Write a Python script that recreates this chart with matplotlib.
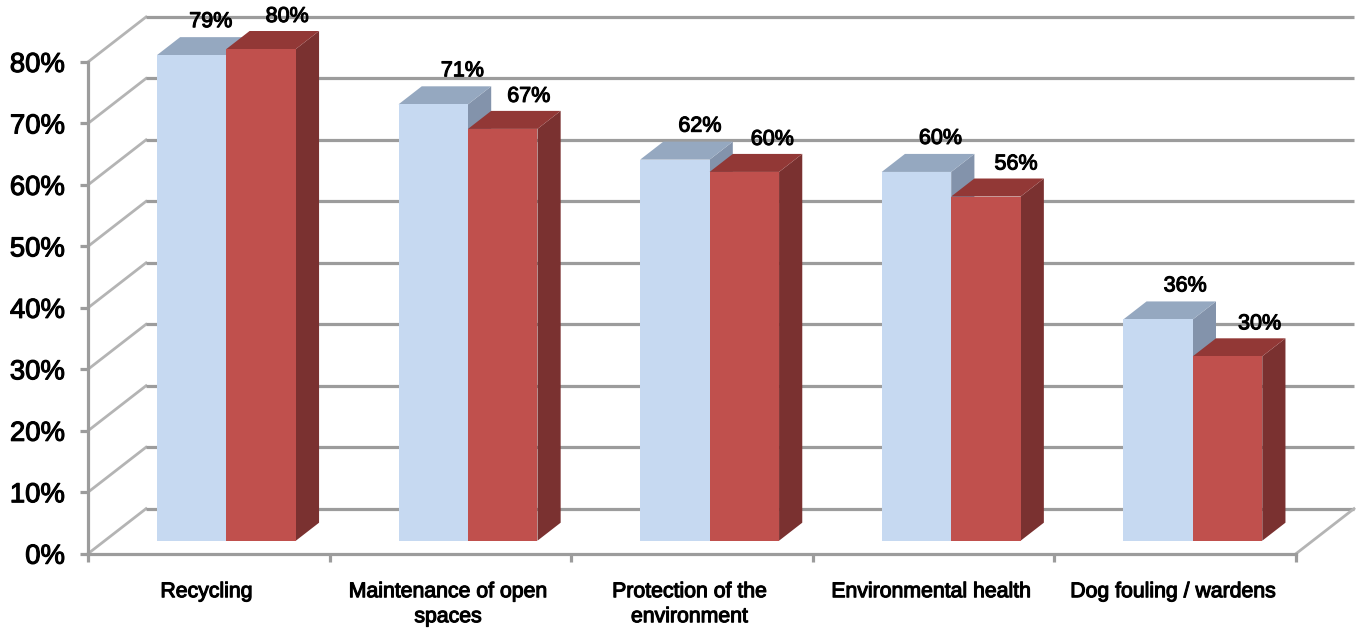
#!/usr/bin/env python
"""Clustered bar chart drawn in the oblique "3D" style of a spreadsheet chart."""
import matplotlib
matplotlib.use("Agg")
import matplotlib.patheffects as pe
import matplotlib.pyplot as plt

plt.rcParams["font.family"] = ["Liberation Sans", "DejaVu Sans"]

categories = [
    "Recycling",
    "Maintenance of open\nspaces",
    "Protection of the\nenvironment",
    "Environmental health",
    "Dog fouling / wardens",
]
series_blue = [79, 71, 62, 60, 36]
series_red = [80, 67, 60, 56, 30]
y_ticks = [0, 10, 20, 30, 40, 50, 60, 70, 80]

# label nudges in pixels relative to the front face centre
blue_label_dx = [19, 29, 25, 24, 27]
red_label_dx = [26, 26, 28, 30, 32]

W, H = 1363, 628
GRID = "#9c9c9c"
DIAG = "#b4b4b4"

# depth of the chart box, in data units
DEPTH_X = 58 / 241.6
DEPTH_Y = 45 / 6.146
BAR_NEAR = 13 / 45
BAR_FAR = 31 / 45
BAR_W = 0.2875
GROUP_START = 0.216
BAR_SCALE = 1.0


def project(x, y, d):
    return x + d * DEPTH_X, y + d * DEPTH_Y


fig = plt.figure(figsize=(W / 100, H / 100), dpi=100, facecolor="white")
ax = fig.add_axes([88 / W, (H - 553.7) / H, 1208 / W, 491.7 / H])
ax.set_xlim(0, 5)
ax.set_ylim(0, 80)
ax.patch.set_visible(False)

# back wall lines and the diagonals that join them to the axis
for t in y_ticks:
    x0, y0 = project(0, t, 1)
    x1, y1 = project(5, t, 1)
    ax.plot([0, x0], [t, y0], color=DIAG, lw=2.0, clip_on=False, zorder=1)
    ax.plot([x0, x1], [y0, y1], color=GRID, lw=2.3, clip_on=False, zorder=1,
            solid_capstyle="butt")
x1, y1 = project(5, 0, 1)
ax.plot([5, x1], [0, y1], color=DIAG, lw=2.0, clip_on=False, zorder=1)


def draw_bar(left, value, front, top, side, zorder):
    h = value * BAR_SCALE
    fx, fy = project(left, 0, BAR_NEAR)
    right = fx + BAR_W
    ax.bar(fx, h, BAR_W, bottom=fy, align="edge", color=front, zorder=zorder + 0.2,
           clip_on=False)
    bdx = (BAR_FAR - BAR_NEAR) * DEPTH_X
    bdy = (BAR_FAR - BAR_NEAR) * DEPTH_Y
    ax.fill([fx, right, right + bdx, fx + bdx],
            [fy + h, fy + h, fy + h + bdy, fy + h + bdy],
            color=top, lw=0, zorder=zorder + 0.1, clip_on=False)
    ax.fill([right, right + bdx, right + bdx, right],
            [fy, fy + bdy, fy + h + bdy, fy + h],
            color=side, lw=0, zorder=zorder, clip_on=False)
    return fx + BAR_W / 2, fy + h


stroke = [pe.withStroke(linewidth=0.8, foreground="black")]

for i in range(len(categories)):
    left = i + GROUP_START
    cx, cy = draw_bar(left, series_blue[i], "#C6D9F1", "#95A8C0", "#8393AB", 2 + i)
    ax.annotate(f"{series_blue[i]}%", (cx, cy),
                xytext=(blue_label_dx[i] * 0.72, 33.5 * 0.72), textcoords="offset points",
                ha="center", va="center", fontsize=15.5, color="black",
                path_effects=stroke, zorder=20, annotation_clip=False)
    cx, cy = draw_bar(left + BAR_W, series_red[i], "#C0504D", "#923836", "#7A3130", 2.5 + i)
    ax.annotate(f"{series_red[i]}%", (cx, cy),
                xytext=(red_label_dx[i] * 0.72, 32.5 * 0.72), textcoords="offset points",
                ha="center", va="center", fontsize=15.5, color="black",
                path_effects=stroke, zorder=20, annotation_clip=False)

for name in ("top", "right"):
    ax.spines[name].set_visible(False)
for name in ("left", "bottom"):
    ax.spines[name].set_color(GRID)
    ax.spines[name].set_linewidth(2.3)
    ax.spines[name].set_zorder(15)

ax.set_yticks(y_ticks)
ax.set_yticklabels([f"{t}%" for t in y_ticks], fontsize=19.8, path_effects=stroke)
ax.tick_params(axis="y", length=6, width=2.3, color=GRID, pad=10.5)

ax.set_xticks(range(len(categories) + 1))
ax.set_xticklabels([])
ax.tick_params(axis="x", which="major", length=6, width=2.3, color=GRID)
ax.set_xticks([i + 0.49 for i in range(len(categories))], minor=True)
ax.set_xticklabels(categories, minor=True, fontsize=15.3, linespacing=1.4,
                   path_effects=stroke)
ax.tick_params(axis="x", which="minor", length=0, pad=20.5)

fig.savefig("out.png", dpi=100, facecolor="white")
